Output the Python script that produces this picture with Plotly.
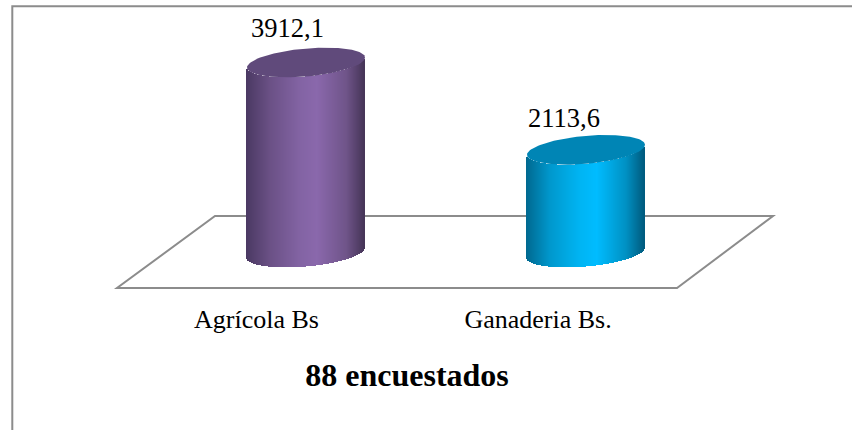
import math
import plotly.graph_objects as go

categories = ["Agrícola Bs", "Ganaderia Bs."]
values = [3912.1, 2113.6]
value_labels = ["3912,1", "2113,6"]
footer = "88 encuestados"

body_stops = [
    [(0.0, "#4a3862"), (0.2, "#6a5085"), (0.45, "#8263a3"), (0.6, "#8a68ac"), (0.85, "#6f5489"), (1.0, "#463558")],
    [(0.0, "#00688f"), (0.2, "#0097cc"), (0.45, "#00b4f2"), (0.6, "#00bcff"), (0.85, "#0090c2"), (1.0, "#005a7e")],
]
top_colors = ["#604a7b", "#0085b5"]

W, H, FLOOR_PX = 852, 430, 288
PX_X = 280.0                 # pixels per category step
X0_PX = 260.0                # pixel of first category
PX_Y = 190.0 / 3912.1        # pixels per value unit
BASE_PX = 252.5              # pixel of value 0
DEPTH = 46.0 / PX_X          # sideways offset of the bars from the labels
A = 59.0 / PX_X              # bar half width
B = 14.0 / PX_Y              # ellipse half height, value units
S = 5.0 / PX_Y               # ellipse tilt, value units
LABEL_SHIFT = [(-19, 35), (-22, 32)]


def lerp_color(stops, t):
    for (t0, c0), (t1, c1) in zip(stops, stops[1:]):
        if t <= t1:
            f = (t - t0) / (t1 - t0)
            rgb = [round(int(c0[i:i + 2], 16) * (1 - f) + int(c1[i:i + 2], 16) * f) for i in (1, 3, 5)]
            return "rgb(%d,%d,%d)" % tuple(rgb)
    return stops[-1][1]


fig = go.Figure()
for i, v in enumerate(values):
    cx = i + DEPTH
    n = 118
    xs, bases, heights, colors = [], [], [], []
    for k in range(n):
        t = (k + 0.5) / n
        u = 2 * t - 1
        arc = B * math.sqrt(1 - u * u)
        bottom = S * u - arc
        xs.append(cx + u * A)
        bases.append(bottom)
        heights.append(v)
        colors.append(lerp_color(body_stops[i], t))
    fig.add_trace(go.Bar(x=xs, y=heights, base=bases, width=1.3 / PX_X,
                         marker=dict(color=colors, line=dict(width=0)),
                         hoverinfo="skip", showlegend=False))
    ex, ey = [], []
    for k in range(121):
        a = 2 * math.pi * k / 120
        ex.append(cx + A * math.cos(a))
        ey.append(v + S * math.cos(a) + B * math.sin(a))
    fig.add_trace(go.Scatter(x=ex, y=ey, mode="lines", fill="toself", fillcolor=top_colors[i],
                             line=dict(width=0, color=top_colors[i]), hoverinfo="skip", showlegend=False))
    fig.add_annotation(x=cx, y=v, text=value_labels[i], showarrow=False, xref="x", yref="y",
                       xshift=LABEL_SHIFT[i][0], yshift=LABEL_SHIFT[i][1],
                       font=dict(family="Liberation Serif", size=26.5, color="#000000"))


def px(x):
    return x / W


def py(y):
    return (FLOOR_PX - y) / FLOOR_PX


floor = [(117, 288), (677, 288), (773, 216), (215, 216)]
path = "M " + " L ".join(f"{px(x)},{py(y)}" for x, y in floor) + " Z"
fig.add_shape(type="path", path=path, xref="paper", yref="paper", layer="below",
              line=dict(color="#8c8c8c", width=2))
fig.add_shape(type="path", xref="paper", yref="paper", layer="below",
              path=f"M {px(12.3)},{py(430)} L {px(12.3)},{py(6.3)} L {px(852)},{py(6.3)}",
              line=dict(color="#8c8c8c", width=2))

fig.update_layout(
    width=W, height=H, autosize=False,
    margin=dict(l=0, r=0, t=0, b=H - FLOOR_PX),
    paper_bgcolor="#ffffff", plot_bgcolor="rgba(0,0,0,0)",
    barmode="overlay", bargap=0, showlegend=False,
    title=dict(text=f"<b>{footer}</b>", x=407 / W, y=1 - 375 / H, xanchor="center", yanchor="middle",
               xref="paper", yref="container",
               font=dict(family="Liberation Serif", size=32, color="#000000")),
    xaxis=dict(range=[-X0_PX / PX_X, (W - X0_PX) / PX_X], tickmode="array",
               tickvals=[-0.0125, 0.993], ticktext=categories, showgrid=False, zeroline=False,
               showline=False, ticks="", ticklabelstandoff=13, fixedrange=True,
               tickfont=dict(family="Liberation Serif", size=26, color="#000000")),
    yaxis=dict(range=[-(FLOOR_PX - BASE_PX) / PX_Y, BASE_PX / PX_Y], visible=False, fixedrange=True),
)
fig.write_html("out.html", config=dict(displayModeBar=False),
               post_script="document.body.style.margin='0';document.body.style.overflow='hidden';")
